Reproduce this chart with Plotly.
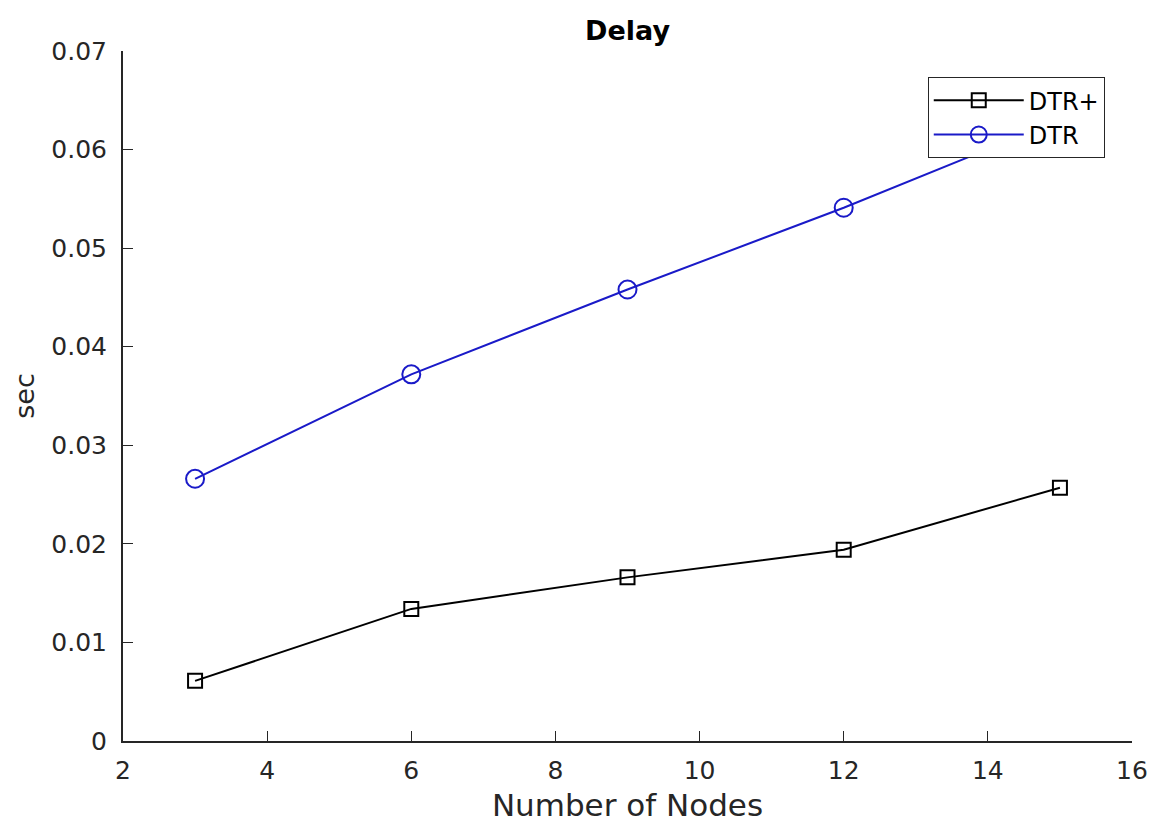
import plotly.graph_objects as go

# Number of nodes in the network
nodes = [3, 6, 9, 12, 15]

# End-to-end delay (seconds) for each routing scheme
delay_dtr_plus = [0.0061, 0.0134, 0.0166, 0.0194, 0.0257]
delay_dtr = [0.0266, 0.0372, 0.0458, 0.0541, 0.0630]

x_ticks = [2, 4, 6, 8, 10, 12, 14, 16]
y_ticks = [0, 0.01, 0.02, 0.03, 0.04, 0.05, 0.06, 0.07]

axis_color = "#262626"
font_family = "DejaVu Sans, Arial, sans-serif"

fig = go.Figure()

fig.add_trace(go.Scatter(
    x=nodes, y=delay_dtr_plus, name="DTR+",
    mode="lines+markers",
    line=dict(color="#000000", width=2),
    marker=dict(symbol="square-open", size=14, color="#000000",
                line=dict(width=2)),
))

fig.add_trace(go.Scatter(
    x=nodes, y=delay_dtr, name="DTR",
    mode="lines+markers",
    line=dict(color="#1a1ac8", width=2),
    marker=dict(symbol="circle-open", size=18, color="#1a1ac8",
                line=dict(width=2)),
))

fig.update_layout(
    width=1158, height=823,
    margin=dict(l=123, r=26, t=51, b=82),
    paper_bgcolor="white", plot_bgcolor="white",
    font=dict(family=font_family, color=axis_color),
    title=dict(text="<b>Delay</b>", x=0.5419, xanchor="center",
               y=1 - 31 / 823, yanchor="middle",
               font=dict(size=27, color="#000000")),
    showlegend=True,
    legend=dict(
        x=0.973, xanchor="right", y=0.962, yanchor="top",
        bgcolor="white", bordercolor=axis_color, borderwidth=1,
        font=dict(size=24, color="#000000"),
        tracegroupgap=0, itemwidth=90,
    ),
    xaxis=dict(
        range=[2, 16], tickvals=x_ticks, ticktext=[str(v) for v in x_ticks],
        ticks="inside", ticklen=10, tickwidth=1.2, tickcolor=axis_color,
        showline=True, linecolor=axis_color, linewidth=2, mirror=False,
        showgrid=False, zeroline=False, ticklabelstandoff=6, automargin=False,
        tickfont=dict(size=25, color=axis_color),
        title=dict(text="Number of Nodes", font=dict(size=31, color=axis_color),
                   standoff=10),
    ),
    yaxis=dict(
        range=[0, 0.07], tickvals=y_ticks,
        ticktext=["0"] + [f"{v:.2f}" for v in y_ticks[1:]],
        ticks="inside", ticklen=10, tickwidth=1.2, tickcolor=axis_color,
        showline=True, linecolor=axis_color, linewidth=2, mirror=False,
        showgrid=False, zeroline=False, ticklabelstandoff=9, automargin=False,
        tickfont=dict(size=25, color=axis_color),
        title=dict(text="sec", font=dict(size=27, color=axis_color),
                   standoff=9),
    ),
)

fig.write_html("out.html")
